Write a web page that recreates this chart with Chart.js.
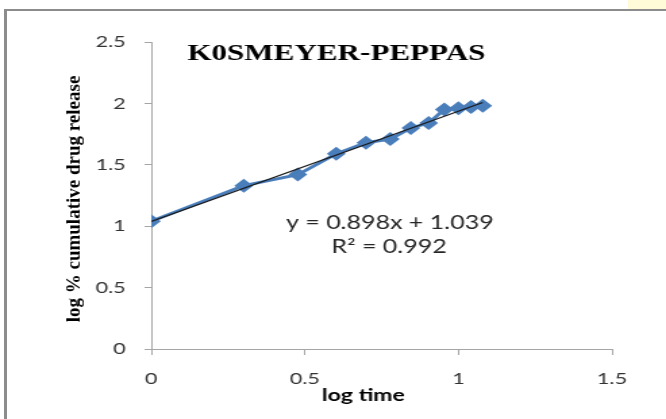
<!DOCTYPE html>
<html>
<head>
<meta charset="utf-8">
<script src="https://cdn.jsdelivr.net/npm/chart.js@4.4.0/dist/chart.umd.min.js"></script>
<style>
  html, body { margin: 0; padding: 0; background: #fff; }
  #page { position: relative; width: 666px; height: 419px; overflow: hidden; }
  /* the reference picture is stretched sideways, so the chart is drawn narrow and widened */
  #wrap { position: absolute; left: 0; top: 0; width: 493px; height: 419px; transform: scaleX(1.351); transform-origin: 0 0; }
  #frame { position: absolute; left: 4px; top: 9px; right: -10px; bottom: -10px; border-left: 3px solid #8c8c8c; border-top: 2px solid #8c8c8c; pointer-events: none; }
  #tint { position: absolute; left: 628px; top: 0; width: 38px; height: 9px; background: #fffbd9; }
</style>
</head>
<body>
<div id="page">
  <div id="tint"></div>
  <div id="wrap"><canvas id="kpChart" width="493" height="419"></canvas></div>
  <div id="frame"></div>
</div>
<script>
const logTime = [0, 0.301, 0.477, 0.602, 0.699, 0.778, 0.845, 0.903, 0.954, 1.0, 1.041, 1.079];
const logRelease = [1.04, 1.33, 1.42, 1.59, 1.68, 1.71, 1.80, 1.84, 1.95, 1.96, 1.97, 1.98];
const trendX = [0, 1.079];
const trendY = [1.039, 2.008];
const xTicks = [0, 0.5, 1, 1.5];
const yTicks = [0, 0.5, 1, 1.5, 2, 2.5];
const chartTitle = 'K0SMEYER-PEPPAS';
const yLabel = 'log % cumulative drug release';
const xLabel = 'log time';
const equationLines = ['y = 0.898x + 1.039', 'R\u00b2 = 0.992'];

// title, trendline equation and axis titles sit where Excel put them
const textPlugin = {
    id: 'kpText',
    afterDraw(chart) {
        const ctx = chart.ctx;
        ctx.save();
        ctx.textAlign = 'center';
        ctx.textBaseline = 'alphabetic';
        ctx.fillStyle = '#000';
        ctx.font = 'bold 23px "Liberation Serif", "Times New Roman", serif';
        ctx.fillText(chartTitle, 249, 60);

        ctx.fillStyle = '#262626';
        ctx.font = '18.5px Lato, sans-serif';
        ctx.fillText(equationLines[0], 288.5, 229);
        ctx.fillText(equationLines[1], 288, 253);

        ctx.fillStyle = '#000';
        ctx.font = 'bold 17px Lato, sans-serif';
        ctx.fillText(xLabel, 269, 401);

        ctx.translate(55.5, 199);
        ctx.rotate(-Math.PI / 2);
        ctx.scale(1, 0.8);
        ctx.textBaseline = 'middle';
        ctx.font = 'bold 19px "Liberation Serif", "Times New Roman", serif';
        ctx.fillText(yLabel, 0, 0);
        ctx.restore();
    }
};

const axisGray = '#a6a6a6';
const tickFont = { family: 'Lato', size: 16 };
const plainLabel = v => String(v);

new Chart(document.getElementById('kpChart'), {
    type: 'scatter',
    data: {
        datasets: [
            {
                label: 'trend',
                data: trendX.map((x, i) => ({ x: x, y: trendY[i] })),
                showLine: true,
                borderColor: '#1a1a1a',
                borderWidth: 1.2,
                pointRadius: 0
            },
            {
                label: 'log % release',
                data: logTime.map((x, i) => ({ x: x, y: logRelease[i] })),
                showLine: true,
                borderColor: '#4a7ebb',
                backgroundColor: '#4a7ebb',
                borderWidth: 3,
                pointStyle: 'rectRot',
                pointRadius: 7,
                pointBorderWidth: 0
            }
        ]
    },
    options: {
        responsive: false,
        animation: false,
        layout: { padding: { top: 42, right: 40, left: 0, bottom: 0 } },
        plugins: { legend: { display: false }, tooltip: { enabled: false }, title: { display: false } },
        scales: {
            x: {
                type: 'linear',
                min: 0,
                max: 1.5,
                afterBuildTicks: s => { s.ticks = xTicks.map(v => ({ value: v })); },
                afterFit: s => { s.height = 70; },
                ticks: { font: tickFont, color: '#333', padding: 14, maxRotation: 0, callback: plainLabel },
                grid: { drawOnChartArea: false, tickLength: 6, color: axisGray },
                border: { color: axisGray, width: 1 }
            },
            y: {
                type: 'linear',
                min: 0,
                max: 2.5,
                afterBuildTicks: s => { s.ticks = yTicks.map(v => ({ value: v })); },
                afterFit: s => { s.width = 112; },
                ticks: { font: tickFont, color: '#333', padding: 14, callback: plainLabel },
                grid: { drawOnChartArea: false, tickLength: 5, color: axisGray },
                border: { color: axisGray, width: 1 }
            }
        }
    },
    plugins: [textPlugin]
});
</script>
</body>
</html>
